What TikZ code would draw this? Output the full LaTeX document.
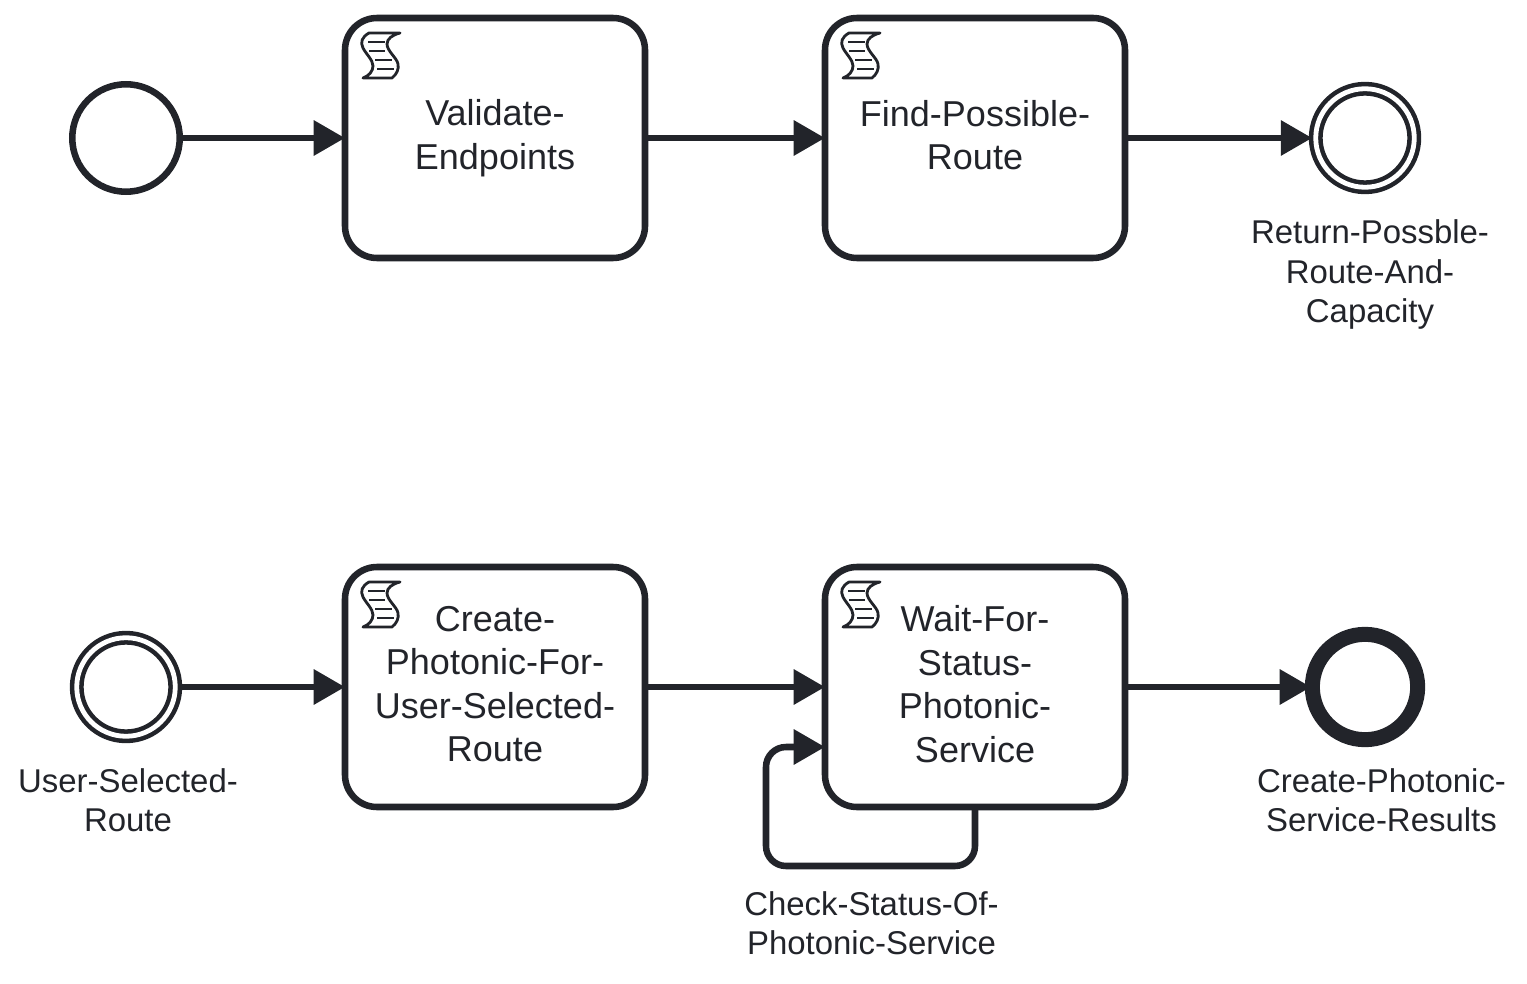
\documentclass[tikz,border=0pt]{standalone}
\usepackage{fontspec}
\setmainfont{Liberation Sans}
\usetikzlibrary{arrows.meta}
\definecolor{ink}{rgb}{0.133,0.141,0.165}
\newcommand{\taskstrut}{\rule[-4.5pt]{0pt}{30.75pt}}

\tikzset{
	flowline/.style={draw=ink,line width=4.9pt,line join=round},
	flowarrow/.style={flowline,-{Triangle[length=23.5pt,width=25.5pt]}},
	scripttask/.style={draw=ink,fill=white,line width=4.9pt,rounded corners=24pt,minimum width=225pt,minimum height=180pt,outer sep=0pt,inner sep=0pt,align=center,text=ink,font=\fontsize{27}{32.6}\selectfont,execute at begin node=\taskstrut,execute at end node=\taskstrut},
	startevent/.style={circle,draw=ink,fill=white,line width=4.9pt,minimum size=80.6pt,outer sep=0pt,inner sep=0pt},
	midevent/.style={circle,draw=ink,double=white,double distance=3.6pt,line width=3.4pt,minimum size=73.9pt,outer sep=2.7pt,inner sep=0pt},
	endevent/.style={circle,draw=ink,fill=white,line width=11.25pt,minimum size=79pt,outer sep=1pt,inner sep=0pt},
	eventlabel/.style={align=center,text=ink,inner sep=0pt,font=\fontsize{24.7}{29.6}\selectfont},
	scripticon/.pic={
		\draw[ink,line width=2.1pt,line join=round,fill=white] (24,15) .. controls (17,19) and (15,24) .. (18,30) .. controls (21,36) and (28,42) .. (28,48) .. controls (28,53) and (24,58) .. (18,60) -- (47,60) .. controls (52,56) and (54,51) .. (53,46) .. controls (52,40) and (42,33) .. (42,26) .. controls (42,21) and (47,17) .. (55,15) -- cycle;
		\draw[ink,line width=2.1pt] (23,24) -- (40,24) (24,33) -- (40,33) (30,42) -- (47,42) (32,51) -- (49,51);
	}
}

\begin{document}
\begin{tikzpicture}[x=0.75pt,y=0.75pt,yscale=-1,xscale=1]
	\useasboundingbox (0,0) rectangle (1527,984);

	\node (startA) [startevent] at (126,138) {};
	\node (validate) [scripttask] at (495,138) {Validate-\\Endpoints};
	\node (findroute) [scripttask] at (975,138) {Find-Possible-\\Route};
	\node (returnA) [midevent] at (1365,138) {};
	\node (returnlabel) [eventlabel] at (1370,274.5) {Return-Possble-\\Route-And-\\Capacity};

	\node (startB) [midevent] at (126,687) {};
	\node (startlabel) [eventlabel] at (128,800) {User-Selected-\\Route};
	\node (create) [scripttask] at (495,687) {Create-\\Photonic-For-\\User-Selected-\\Route};
	\node (wait) [scripttask] at (975,687) {Wait-For-\\Status-\\Photonic-\\Service};
	\node (endB) [endevent] at (1365,687) {};
	\node (endlabel) [eventlabel] at (1381.5,800) {Create-Photonic-\\Service-Results};
	\node (checklabel) [eventlabel] at (871.5,923) {Check-Status-Of-\\Photonic-Service};

	\foreach \task in {validate,findroute,create,wait}
		\pic[yscale=-1] at (\task.north west) {scripticon};

	\draw[flowarrow] (startA) -- (validate);
	\draw[flowarrow] (validate) -- (findroute);
	\draw[flowarrow] (findroute) -- (returnA);
	\draw[flowarrow] (startB) -- (create);
	\draw[flowarrow] (create) -- (wait);
	\draw[flowarrow] (wait) -- (endB);

	\coordinate (loopin) at (825,747);
	\draw[flowarrow,rounded corners=15pt] (wait.south) |- (766,866) |- (loopin);
\end{tikzpicture}
\end{document}
